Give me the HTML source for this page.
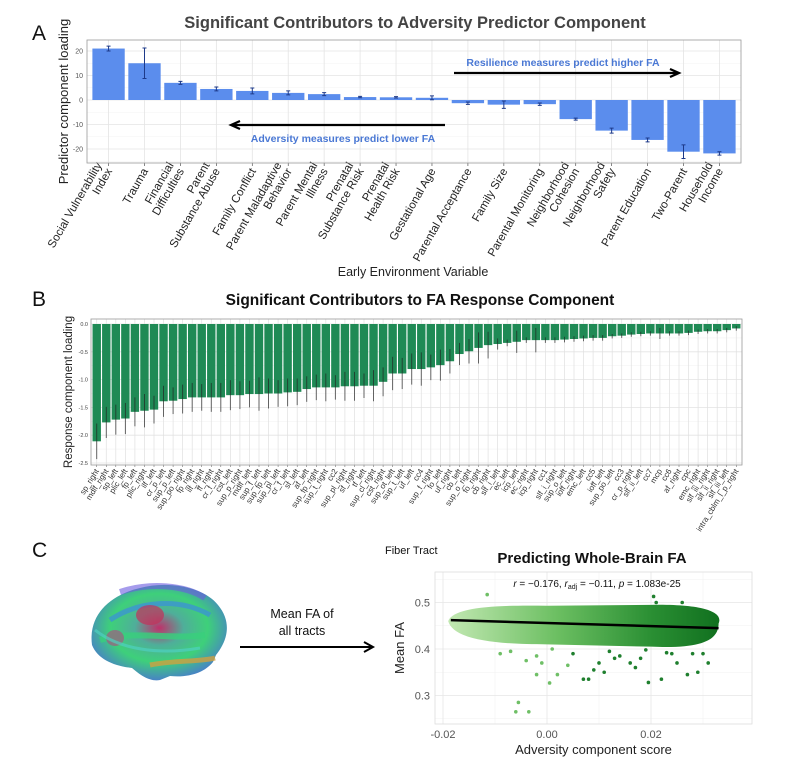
<!DOCTYPE html>
<html><head><meta charset="utf-8"><style>
body{margin:0;background:#fff;}
svg{display:block;font-family:"Liberation Sans",sans-serif;}
</style></head><body>
<svg id="fig" width="805" height="767" viewBox="0 0 805 767">
<defs>
<linearGradient id="cloudGrad" x1="0" x2="1" y1="0" y2="0">
<stop offset="0" stop-color="#c2e8b2"/><stop offset="0.4" stop-color="#6cbf62"/><stop offset="0.75" stop-color="#2a8f33"/><stop offset="1" stop-color="#11701f"/>
</linearGradient>
<radialGradient id="brainGrad" cx="0.5" cy="0.45" r="0.6">
<stop offset="0" stop-color="#c0306a"/><stop offset="0.3" stop-color="#4fae9a"/><stop offset="0.6" stop-color="#3ed07a"/><stop offset="1" stop-color="#4a6fd8"/>
</radialGradient>
</defs>
<g id="panelA"></g>
<g id="panelB"></g>
<g id="panelC"></g>
</svg>
<script>
const NS="http://www.w3.org/2000/svg";
function mk(parent,tag,attrs,text){const e=document.createElementNS(NS,tag);for(const k in attrs)e.setAttribute(k,attrs[k]);if(text!==undefined)e.textContent=text;parent.appendChild(e);return e;}

// ===== Panel A data =====
const aCategories=[["Social Vulnerability","Index"],["Trauma"],["Financial","Difficulties"],["Parent","Substance Abuse"],["Family Conflict"],["Parent Maladaptive","Behavior"],["Parent Mental","Illness"],["Prenatal","Substance Risk"],["Prenatal","Health Risk"],["Gestational Age"],["Parental Acceptance"],["Family Size"],["Parental Monitoring"],["Neighborhood","Cohesion"],["Neighborhood","Safety"],["Parent Education"],["Two-Parent"],["Household","Income"]];
const aValues=[21,15,7,4.5,3.7,2.9,2.4,1.2,1.1,0.9,-1.3,-1.9,-1.7,-7.8,-12.5,-16.3,-21.1,-21.8];
const aErrors=[1,6.2,0.6,0.8,1.2,0.8,0.6,0.3,0.3,0.8,0.5,1.5,0.5,0.4,1,0.8,2.8,0.7];
const aTicks=[20,10,0,-10,-20];

// ===== Panel B data =====
const bCategories=["sp_right","mdlf_right","sp_left","plic_left","fp_left","plic_right","ilf_left","cr_p_left","sup_p_left","sup_po_right","fp_right","ilf_right","ff_right","cr_f_right","cst_left","sup_p_right","mdlf_left","sup_f_left","sup_fp_left","sup_pl_left","cr_f_left","sf_left","af_left","sup_fp_right","sup_t_right","cc2","sup_pl_right","sf_right","tf_left","sup_cl_right","cst_right","sup_ot_left","sup_t_left","uf_left","cc4","sup_f_right","fo_left","uf_right","cb_left","sup_o_right","fo_right","cb_right","slf_i_left","ec_left","icp_left","ec_right","icp_right","cc1","slf_i_right","sup_o_left","ioff_right","emc_left","cc5","ioff_left","sup_po_left","cc3","cr_p_right","slf_ii_left","cc7","mcp","cc6","af_right","cpc","emc_right","slf_iii_right","slf_ii_right","slf_iii_left","intra_cblm_l_p_right"];
const bValues=[-2.11,-1.77,-1.72,-1.70,-1.58,-1.56,-1.54,-1.39,-1.38,-1.35,-1.32,-1.32,-1.32,-1.32,-1.28,-1.28,-1.26,-1.26,-1.25,-1.25,-1.23,-1.22,-1.17,-1.14,-1.14,-1.14,-1.12,-1.12,-1.11,-1.11,-1.04,-0.89,-0.89,-0.81,-0.81,-0.78,-0.74,-0.67,-0.54,-0.49,-0.43,-0.38,-0.36,-0.34,-0.32,-0.29,-0.29,-0.29,-0.29,-0.28,-0.27,-0.26,-0.25,-0.25,-0.22,-0.21,-0.19,-0.18,-0.17,-0.17,-0.17,-0.17,-0.16,-0.14,-0.13,-0.13,-0.11,-0.08];
const bErrors=[0.32,0.28,0.27,0.28,0.26,0.3,0.25,0.28,0.24,0.26,0.26,0.24,0.26,0.26,0.27,0.25,0.24,0.3,0.27,0.24,0.25,0.24,0.23,0.23,0.25,0.22,0.26,0.26,0.22,0.28,0.26,0.3,0.28,0.28,0.3,0.23,0.28,0.22,0.2,0.22,0.28,0.24,0.1,0.06,0.2,0.05,0.22,0.05,0.05,0.05,0.05,0.05,0.05,0.05,0.04,0.04,0.04,0.04,0.04,0.1,0.04,0.04,0.04,0.04,0.04,0.04,0.04,0.04];
const bTicks=[0,-0.5,-1,-1.5,-2,-2.5];

// ===== Panel C data =====
const cLineX=[-0.0185,0.033];
const cLineY=[0.462,0.445];
const cOutX=[-0.0115,-0.006,-0.0055,-0.0035,-0.002,0.0005,0.002,0.007,0.008,0.009,0.011,0.013,0.016,0.017,0.0195,0.0205,0.022,0.025,0.027,0.029,0.031,0.028,0.024,0.018,-0.001,0.004,0.014,0.021,0.026,0.030,-0.004,0.010,-0.009,-0.007,-0.002,0.001,0.005,0.012,0.019,0.023];
const cOutY=[0.517,0.265,0.285,0.265,0.345,0.327,0.345,0.335,0.335,0.355,0.35,0.38,0.37,0.36,0.328,0.513,0.335,0.37,0.345,0.35,0.37,0.39,0.39,0.38,0.37,0.365,0.385,0.5,0.5,0.39,0.375,0.37,0.39,0.395,0.385,0.40,0.39,0.395,0.398,0.392];
const cXTicks=[-0.02,0,0.02];
const cXTickLabels=["-0.02","0.00","0.02"];
const cYTicks=[0.3,0.4,0.5];

// ===== Panel A draw =====
(function(){
const g=document.getElementById('panelA');
const L=87,R=741,T=40,B=163;
const n=aCategories.length, step=(R-L)/(n-1+1.2);
const xA=i=>L+(i+0.6)*step;
const yA=v=>100-v*2.45;
let e=mk(g,'text',{x:32,y:40,'font-size':21,fill:'#111'},'A');

e=mk(g,'text',{x:415,y:28,'font-size':16.5,'font-weight':'bold',fill:'#444','text-anchor':'middle'},'Significant Contributors to Adversity Predictor Component');

mk(g,'rect',{x:L,y:T,width:R-L,height:B-T,fill:'#fff'});
for(const t of [15,5,-5,-15,-25]){mk(g,'line',{x1:L,x2:R,y1:yA(t),y2:yA(t),stroke:'#f3f3f3','stroke-width':0.6});}
for(const t of aTicks){mk(g,'line',{x1:L,x2:R,y1:yA(t),y2:yA(t),stroke:'#e4e4e4','stroke-width':0.8});
 e=mk(g,'text',{x:L-4,y:yA(t)+2.5,'font-size':7,fill:'#555','text-anchor':'end'},String(t));
 }
for(let i=0;i<n;i++){mk(g,'line',{x1:xA(i),x2:xA(i),y1:T,y2:B,stroke:'#e4e4e4','stroke-width':0.8});}
for(let i=0;i<n;i++){
 const v=aValues[i],x=xA(i),w=step*0.9;
 const r=mk(g,'rect',{x:x-w/2,y:Math.min(yA(v),yA(0)),width:w,height:Math.abs(yA(v)-yA(0)),fill:'#5b8ded'});
 
 
 const y1=yA(v+aErrors[i]),y2=yA(v-aErrors[i]);
 const eb=mk(g,'path',{d:`M${x-2},${y1}H${x+2}M${x},${y1}V${y2}M${x-2},${y2}H${x+2}`,stroke:'#1d3a8a','stroke-width':1,fill:'none'});
 
 mk(g,'line',{x1:x,x2:x,y1:B,y2:B+3,stroke:'#555','stroke-width':0.7});
 const lab=aCategories[i];
 const t=mk(g,'text',{transform:`translate(${x+4},${B+8}) rotate(-60)`,'font-size':11.5,fill:'#222','text-anchor':'end'});
 
 lab.forEach((s,k)=>{mk(t,'tspan',{x:0,dy:k===0?(-(lab.length-1)*12):12},s);});
}
mk(g,'rect',{x:L,y:T,width:R-L,height:B-T,fill:'none',stroke:'#999','stroke-width':0.8});
e=mk(g,'text',{transform:`translate(68,${(T+B)/2}) rotate(-90)`,'font-size':13,fill:'#222','text-anchor':'middle'},'Predictor component loading');

e=mk(g,'text',{x:413,y:276,'font-size':12.5,fill:'#222','text-anchor':'middle'},'Early Environment Variable');

e=mk(g,'text',{x:563,y:66,'font-size':10.5,'font-weight':'bold',fill:'#4a78d4','text-anchor':'middle'},'Resilience measures predict higher FA');

e=mk(g,'path',{d:'M454,73H678M670,69L679,73L670,77',stroke:'#000','stroke-width':2.2,fill:'none'});

e=mk(g,'text',{x:343,y:142,'font-size':10.5,'font-weight':'bold',fill:'#4a78d4','text-anchor':'middle'},'Adversity measures predict lower FA');

e=mk(g,'path',{d:'M445,125H232M240,121L231,125L240,129',stroke:'#000','stroke-width':2.2,fill:'none'});

})();

// ===== Panel B draw =====
(function(){
const g=document.getElementById('panelB');
const L=91,R=742,T=319,B=465;
const n=bCategories.length, step=(R-L)/(n-1+1.2);
const xB=i=>L+(i+0.6)*step;
const yB=v=>324-v*55.6;
let e=mk(g,'text',{x:32,y:306,'font-size':21,fill:'#111'},'B');

e=mk(g,'text',{x:420,y:305,'font-size':15.5,'font-weight':'bold',fill:'#111','text-anchor':'middle'},'Significant Contributors to FA Response Component');

for(const t of [-0.25,-0.75,-1.25,-1.75,-2.25]){mk(g,'line',{x1:L,x2:R,y1:yB(t),y2:yB(t),stroke:'#f3f3f3','stroke-width':0.6});}
for(const t of bTicks){mk(g,'line',{x1:L,x2:R,y1:yB(t),y2:yB(t),stroke:'#e4e4e4','stroke-width':0.8});
 e=mk(g,'text',{x:L-3,y:yB(t)+2,'font-size':5.5,fill:'#444','text-anchor':'end'},t.toFixed(1));
 }
for(let i=0;i<n;i++){mk(g,'line',{x1:xB(i),x2:xB(i),y1:T,y2:B,stroke:'#e0e0e0','stroke-width':0.7});}
for(let i=0;i<n;i++){
 const v=bValues[i],x=xB(i),w=step*0.88;
 const r=mk(g,'rect',{x:x-w/2,y:yB(0),width:w,height:yB(v)-yB(0),fill:'#1f8a55'});
 
 
 const eb=mk(g,'line',{x1:x,x2:x,y1:yB(v+bErrors[i]),y2:yB(v-bErrors[i]),stroke:'#222','stroke-width':0.9,'stroke-opacity':0.75});
 
 mk(g,'line',{x1:x,x2:x,y1:B,y2:B+2,stroke:'#555','stroke-width':0.5});
 const t=mk(g,'text',{transform:`translate(${x+2.5},${B+6}) rotate(-58)`,'font-size':8,fill:'#333','text-anchor':'end'},bCategories[i]);
 
}
mk(g,'rect',{x:L,y:T,width:R-L,height:B-T,fill:'none',stroke:'#999','stroke-width':0.8});
e=mk(g,'text',{transform:`translate(72,${(T+B)/2}) rotate(-90)`,'font-size':11.5,fill:'#222','text-anchor':'middle'},'Response component loading');

})();

// ===== Panel C draw =====
(function(){
const g=document.getElementById('panelC');
const L=435,R=752,T=572,B=724;
const xC=v=>547+v*5200;
const yC=v=>649-(v-0.4)*465;
let e=mk(g,'text',{x:32,y:557,'font-size':21,fill:'#111'},'C');

e=mk(g,'text',{x:385,y:554,'font-size':11,fill:'#111'},'Fiber Tract');

const br=mk(g,'g',{});

mk(br,'path',{d:'M92,645 C88,615 110,595 140,588 C170,580 205,588 218,605 C232,622 228,640 216,655 L213,662 C205,672 190,678 170,676 L160,680 C150,682 140,675 132,668 C115,666 98,660 92,645 Z',fill:'url(#brainGrad)'});
mk(br,'path',{d:'M110,620 C140,600 180,598 210,615',stroke:'#3b8fdc','stroke-width':5,fill:'none','stroke-opacity':0.7});
mk(br,'path',{d:'M100,640 C130,630 170,640 205,635',stroke:'#38d07c','stroke-width':6,fill:'none','stroke-opacity':0.8});
mk(br,'ellipse',{cx:150,cy:615,rx:14,ry:10,fill:'#c4305a','fill-opacity':0.7});
mk(br,'ellipse',{cx:115,cy:638,rx:9,ry:8,fill:'#b04a80','fill-opacity':0.6});
mk(br,'path',{d:'M150,665 C175,660 200,662 215,658',stroke:'#d0a040','stroke-width':5,fill:'none','stroke-opacity':0.8});
mk(br,'path',{d:'M120,592 C150,582 185,585 205,598',stroke:'#6a5ae0','stroke-width':6,fill:'none','stroke-opacity':0.6});
mk(br,'path',{d:'M95,630 C120,650 160,655 200,648',stroke:'#4fd0c0','stroke-width':3,fill:'none','stroke-opacity':0.7});
e=mk(g,'text',{x:302,y:618,'font-size':12.5,fill:'#111','text-anchor':'middle'});

mk(e,'tspan',{x:302,dy:0},'Mean FA of');mk(e,'tspan',{x:302,dy:17},'all tracts');
e=mk(g,'path',{d:'M240,647H372M364,642L373,647L364,652',stroke:'#000','stroke-width':2,fill:'none'});

e=mk(g,'text',{x:592,y:563,'font-size':15,'font-weight':'bold',fill:'#111','text-anchor':'middle'},'Predicting Whole-Brain FA');

mk(g,'rect',{x:L,y:T,width:R-L,height:B-T,fill:'#fff'});
for(const t of [0.35,0.45,0.25,0.55]){const yy=yC(t);if(yy>T&&yy<B)mk(g,'line',{x1:L,x2:R,y1:yy,y2:yy,stroke:'#f2f2f2','stroke-width':0.6});}
for(const t of [-0.01,0.01,0.03]){mk(g,'line',{x1:xC(t),x2:xC(t),y1:T,y2:B,stroke:'#f2f2f2','stroke-width':0.6});}
cYTicks.forEach(t=>{mk(g,'line',{x1:L,x2:R,y1:yC(t),y2:yC(t),stroke:'#e6e6e6','stroke-width':0.8});
 e=mk(g,'text',{x:L-5,y:yC(t)+4,'font-size':11,fill:'#555','text-anchor':'end'},String(t));
 });
cXTicks.forEach((t,i)=>{mk(g,'line',{x1:xC(t),x2:xC(t),y1:T,y2:B,stroke:'#e6e6e6','stroke-width':0.8});
 e=mk(g,'text',{x:xC(t),y:B+14,'font-size':11,fill:'#555','text-anchor':'middle'},cXTickLabels[i]);
 });
const cl=mk(g,'path',{d:`M${xC(-0.019)},${yC(0.46)} C${xC(-0.018)},${yC(0.49)} ${xC(-0.01)},${yC(0.495)} ${xC(0.0)},${yC(0.493)} L${xC(0.02)},${yC(0.495)} C${xC(0.03)},${yC(0.497)} ${xC(0.034)},${yC(0.48)} ${xC(0.033)},${yC(0.455)} C${xC(0.033)},${yC(0.42)} ${xC(0.03)},${yC(0.40)} ${xC(0.02)},${yC(0.405)} L${xC(0.0)},${yC(0.41)} C${xC(-0.01)},${yC(0.41)} ${xC(-0.018)},${yC(0.42)} ${xC(-0.019)},${yC(0.46)} Z`,fill:'url(#cloudGrad)'});

for(let i=0;i<cOutX.length;i++){
 const c=mk(g,'circle',{cx:xC(cOutX[i]),cy:yC(cOutY[i]),r:1.8,fill:cOutX[i]<0.005?'#6fbf66':'#1f7f2e'});
 
}
const ln=mk(g,'line',{x1:xC(cLineX[0]),y1:yC(cLineY[0]),x2:xC(cLineX[1]),y2:yC(cLineY[1]),stroke:'#000','stroke-width':2.5});

mk(g,'rect',{x:L,y:T,width:R-L,height:B-T,fill:'none',stroke:'#ddd','stroke-width':0.8});
e=mk(g,'text',{x:597,y:587,'font-size':10,fill:'#111','text-anchor':'middle'});

mk(e,'tspan',{'font-style':'italic'},'r');mk(e,'tspan',{},' = \u22120.176, ');mk(e,'tspan',{'font-style':'italic'},'r');
mk(e,'tspan',{'font-size':7,dy:2},'adj');mk(e,'tspan',{dy:-2},' = \u22120.11, ');mk(e,'tspan',{'font-style':'italic'},'p');mk(e,'tspan',{},' = 1.083e-25');
e=mk(g,'text',{transform:`translate(404,${(T+B)/2}) rotate(-90)`,'font-size':13,fill:'#222','text-anchor':'middle'},'Mean FA');

e=mk(g,'text',{x:(L+R)/2,y:754,'font-size':13,fill:'#222','text-anchor':'middle'},'Adversity component score');

})();
</script>
</body></html>
